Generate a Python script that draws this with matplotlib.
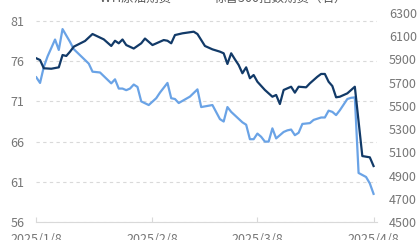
import pandas as pd
import matplotlib
matplotlib.use("Agg")
import matplotlib.pyplot as plt
import matplotlib.dates as mdates
from matplotlib.ticker import FuncFormatter

plt.rcParams["font.family"] = ["Noto Sans CJK SC", "DejaVu Sans"]

# WTI crude futures (left axis)
wti_dates = ["2025-01-08", "2025-01-09", "2025-01-10", "2025-01-11", "2025-01-13", "2025-01-14",
             "2025-01-15", "2025-01-17", "2025-01-18", "2025-01-22", "2025-01-23", "2025-01-25",
             "2025-01-28", "2025-01-29", "2025-01-30", "2025-01-31", "2025-02-01", "2025-02-02",
             "2025-02-03", "2025-02-04", "2025-02-05", "2025-02-07", "2025-02-09", "2025-02-10",
             "2025-02-12", "2025-02-13", "2025-02-14", "2025-02-15", "2025-02-18", "2025-02-20",
             "2025-02-21", "2025-02-24", "2025-02-26", "2025-02-27", "2025-02-28", "2025-03-01",
             "2025-03-04", "2025-03-05", "2025-03-06", "2025-03-07", "2025-03-08", "2025-03-09",
             "2025-03-10", "2025-03-11", "2025-03-12", "2025-03-13", "2025-03-15", "2025-03-16",
             "2025-03-17", "2025-03-18", "2025-03-19", "2025-03-20", "2025-03-22", "2025-03-23",
             "2025-03-25", "2025-03-26", "2025-03-27", "2025-03-28", "2025-03-29", "2025-03-30",
             "2025-04-01", "2025-04-02", "2025-04-03", "2025-04-04", "2025-04-06", "2025-04-07",
             "2025-04-08"]
wti_values = [74.0, 73.3, 75.3, 76.6, 78.7, 77.4,
              80.0, 78.4, 77.5, 75.7, 74.7, 74.6,
              73.25, 73.75, 72.6, 72.6, 72.4, 72.6,
              73.1, 72.8, 71.0, 70.55, 71.4, 72.1,
              73.3, 71.4, 71.3, 70.8, 71.6, 72.5,
              70.3, 70.55, 68.8, 68.5, 70.3, 69.7,
              68.4, 68.1, 66.3, 66.3, 67.0, 66.6,
              66.0, 66.0, 67.65, 66.4, 67.2, 67.4,
              67.5, 66.8, 67.1, 68.2, 68.3, 68.7,
              69.0, 69.0, 69.85, 69.7, 69.3, 69.9,
              71.3, 71.45, 71.5, 62.1, 61.6, 60.8,
              59.5]

# S&P 500 futures (right axis)
spx_dates = ["2025-01-08", "2025-01-09", "2025-01-10", "2025-01-12", "2025-01-14", "2025-01-15",
             "2025-01-16", "2025-01-17", "2025-01-18", "2025-01-21", "2025-01-23", "2025-01-26",
             "2025-01-28", "2025-01-29", "2025-01-30", "2025-01-31", "2025-02-01", "2025-02-03",
             "2025-02-05", "2025-02-06", "2025-02-08", "2025-02-11", "2025-02-12", "2025-02-13",
             "2025-02-14", "2025-02-16", "2025-02-19", "2025-02-20", "2025-02-22", "2025-02-24",
             "2025-02-26", "2025-02-27", "2025-02-28", "2025-03-01", "2025-03-02", "2025-03-03",
             "2025-03-04", "2025-03-05", "2025-03-06", "2025-03-07", "2025-03-08", "2025-03-10",
             "2025-03-12", "2025-03-13", "2025-03-14", "2025-03-15", "2025-03-17", "2025-03-18",
             "2025-03-19", "2025-03-21", "2025-03-22", "2025-03-24", "2025-03-25", "2025-03-26",
             "2025-03-27", "2025-03-28", "2025-03-29", "2025-03-30", "2025-04-01", "2025-04-03",
             "2025-04-05", "2025-04-07", "2025-04-08"]
spx_values = [5910, 5895, 5824, 5820, 5832, 5938,
              5930, 5967, 6010, 6059, 6119, 6073,
              6016, 6061, 6039, 6072, 6024, 5994,
              6039, 6080, 6024, 6067, 6061, 6039,
              6110, 6125, 6139, 6119, 6016, 5987,
              5967, 5953, 5861, 5953, 5901, 5852,
              5781, 5832, 5738, 5766, 5708, 5637,
              5579, 5594, 5516, 5637, 5665, 5614,
              5665, 5660, 5694, 5751, 5775, 5775,
              5708, 5671, 5574, 5579, 5608, 5665,
              5068, 5057, 4982]

tick_dates = ["2025-01-08", "2025-02-08", "2025-03-08", "2025-04-08"]
left_ticks = [56, 61, 66, 71, 76, 81]
right_ticks = list(range(4500, 6301, 200))
labels = ["WTI原油期货", "标普500指数期货（右）"]

light_blue = "#6aa3e6"
navy = "#123a68"
grey_text = "#767676"
grid_col = "#d9d9d9"

fig = plt.figure(figsize=(4.2, 2.4), dpi=100)
ax = fig.add_axes([36 / 420, 18 / 240, 341 / 420, 209 / 240])
ax2 = ax.twinx()

l1, = ax.plot(pd.to_datetime(wti_dates), wti_values, color=light_blue, lw=1.6)
l2, = ax2.plot(pd.to_datetime(spx_dates), spx_values, color=navy, lw=1.6)

ax.set_xlim(pd.Timestamp("2025-01-07 22:00"), pd.Timestamp("2025-04-08 22:00"))
ax.set_ylim(56, 82)
ax2.set_ylim(4500, 6300)
ax.set_yticks(left_ticks)
ax2.set_yticks(right_ticks)
ax.set_xticks(pd.to_datetime(tick_dates))
ax.xaxis.set_major_formatter(FuncFormatter(
    lambda v, p: "{0.year}/{0.month}/{0.day}".format(mdates.num2date(v))))

ax.yaxis.grid(True, linestyle=(0, (3, 3)), color=grid_col, lw=0.8)
ax.set_axisbelow(True)
for a in (ax, ax2):
    for s in ("top", "left", "right", "bottom"):
        a.spines[s].set_visible(False)
ax.spines["bottom"].set_visible(True)
ax.spines["bottom"].set_color(grid_col)
ax.spines["bottom"].set_linewidth(0.8)

ax.tick_params(axis="y", length=0, pad=8.5, labelsize=9, labelcolor=grey_text)
ax2.tick_params(axis="y", length=0, pad=8.5, labelsize=9, labelcolor=grey_text)
ax.tick_params(axis="x", direction="in", length=3.5, color=grid_col, width=0.8,
               pad=8, labelsize=9, labelcolor=grey_text)

fig.legend([l1, l2], labels, loc="center", bbox_to_anchor=(0.502, 1.006), ncol=2,
           frameon=False, fontsize=9, handlelength=1.5, handletextpad=0.5,
           columnspacing=1.3, borderpad=0, labelcolor="#595959")

fig.savefig("out.png", dpi=100)
